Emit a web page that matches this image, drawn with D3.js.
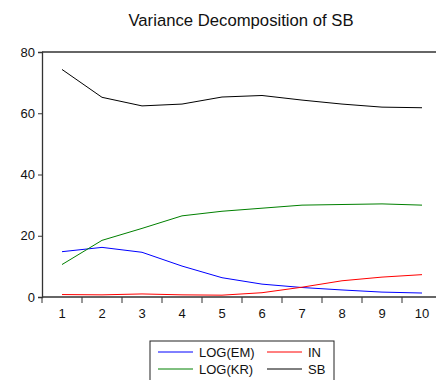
<!DOCTYPE html>
<html>
<head>
<meta charset="utf-8">
<script src="https://cdn.jsdelivr.net/npm/d3@7"></script>
<style>
  body { margin: 0; background: #fff; }
  svg { font-family: "Liberation Sans", Arial, sans-serif; }
</style>
</head>
<body>
<div id="chart"></div>
<script>
// Dados
var periods = [1, 2, 3, 4, 5, 6, 7, 8, 9, 10];
var logEM = [14.8, 16.2, 14.6, 10.1, 6.3, 4.2, 3.1, 2.3, 1.6, 1.3];
var inVals = [0.8, 0.7, 1.0, 0.7, 0.6, 1.4, 3.2, 5.3, 6.5, 7.3];
var logKR = [10.6, 18.5, 22.4, 26.5, 28.0, 29.0, 30.0, 30.2, 30.4, 30.0];
var sb = [74.3, 65.2, 62.4, 63.0, 65.3, 65.8, 64.3, 63.0, 62.0, 61.8];
var yTicks = [0, 20, 40, 60, 80];

var series = [
  {name: "LOG(EM)", values: logEM, color: "#0000ff"},
  {name: "IN", values: inVals, color: "#ff0000"},
  {name: "LOG(KR)", values: logKR, color: "#008000"},
  {name: "SB", values: sb, color: "#000000"}
];

var w = 436, h = 380;
var margin = {top: 52, left: 42, bottom: 83};
var plotW = 400;
var plotH = h - margin.top - margin.bottom;

var svg = d3.select("#chart").append("svg")
  .attr("width", w)
  .attr("height", h);

var g = svg.append("g")
  .attr("transform", "translate(" + margin.left + "," + margin.top + ")");

// Escalas
var x = d3.scaleBand().domain(periods).range([0, plotW]);
var y = d3.scaleLinear().domain([0, 80]).range([plotH, 0]);

// Moldura de cima
g.append("line")
  .attr("x1", 0).attr("x2", plotW)
  .attr("y1", 0).attr("y2", 0)
  .style("stroke", "#333").style("stroke-width", 1.3);

// Eixo y
var yAxis = d3.axisLeft(y).tickValues(yTicks).tickSize(4).tickPadding(3);
var gy = g.append("g").call(yAxis);
gy.select(".domain").style("stroke", "#333").style("stroke-width", 1.3);
gy.selectAll("line").style("stroke", "#333");
gy.selectAll("text").style("font-size", "13px").style("fill", "#111");

// Eixo x (ticks nas bordas das categorias)
var gx = g.append("g").attr("transform", "translate(0," + plotH + ")");
gx.append("line")
  .attr("x1", 0).attr("x2", plotW)
  .style("stroke", "#333").style("stroke-width", 1.3);
gx.selectAll(".tk")
  .data(periods)
  .enter()
  .append("line")
  .attr("x1", function(d) { return x(d); })
  .attr("x2", function(d) { return x(d); })
  .attr("y1", 0).attr("y2", 6)
  .style("stroke", "#333");
gx.selectAll(".lbl")
  .data(periods)
  .enter()
  .append("text")
  .attr("x", function(d) { return x(d) + x.bandwidth() / 2; })
  .attr("y", 21)
  .attr("text-anchor", "middle")
  .style("font-size", "13px")
  .style("fill", "#111")
  .text(function(d) { return d; });

// Linhas
var line = d3.line()
  .x(function(d, i) { return x(periods[i]) + x.bandwidth() / 2; })
  .y(function(d) { return y(d); });

g.selectAll(".serie")
  .data(series)
  .enter()
  .append("path")
  .attr("d", function(d) { return line(d.values); })
  .attr("fill", "none")
  .attr("stroke", function(d) { return d.color; })
  .attr("stroke-width", 1);

// Titulo
svg.append("text")
  .attr("x", 241)
  .attr("y", 26)
  .attr("text-anchor", "middle")
  .style("font-size", "16.7px")
  .style("fill", "#111")
  .text("Variance Decomposition of SB");

// Legenda
var leg = svg.append("g").attr("transform", "translate(150,341)");
leg.append("rect")
  .attr("width", 184).attr("height", 45)
  .attr("fill", "#fff")
  .attr("stroke", "#222");
var legPos = [[0, 0], [1, 0], [0, 1], [1, 1]];
series.forEach(function(s, i) {
  var cx = 8 + legPos[i][0] * 109;
  var cy = 11 + legPos[i][1] * 17;
  leg.append("line")
    .attr("x1", cx).attr("x2", cx + 35)
    .attr("y1", cy).attr("y2", cy)
    .style("stroke", s.color);
  leg.append("text")
    .attr("x", cx + 41)
    .attr("y", cy + 5)
    .style("font-size", "13px")
    .style("fill", "#111")
    .text(s.name);
});
</script>
</body>
</html>
